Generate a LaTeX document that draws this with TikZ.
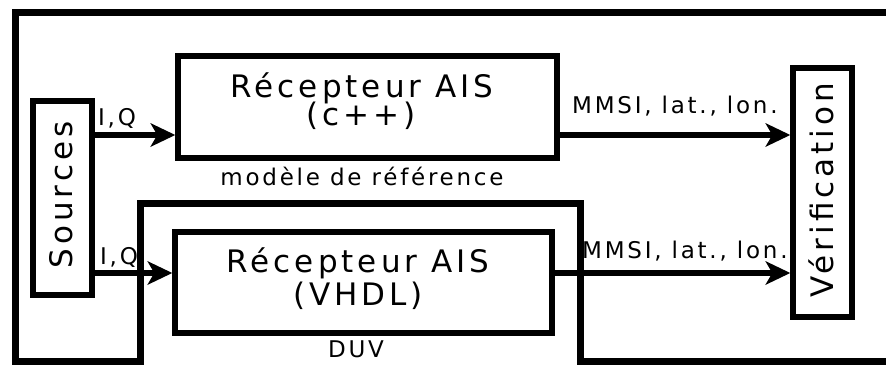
\documentclass[tikz,border=0pt]{standalone}
\usepackage{fontspec}
\setmainfont{DejaVu Sans}
\newfontfamily\bigfont{DejaVu Sans}[LetterSpace=13]
\newfontfamily\smallfont{DejaVu Sans}[LetterSpace=12]
\usetikzlibrary{arrows.meta,positioning}

\begin{document}
\begin{tikzpicture}[x=1pt,y=-1pt,
    blk/.style={draw,line width=5.5pt,inner sep=0pt},
    big/.style={font=\fontsize{31}{31}\selectfont\bigfont,inner sep=0pt},
    lbl/.style={font=\fontsize{23}{23}\selectfont\smallfont,inner sep=0pt},
    flow/.style={line width=6.5pt,
      -{Stealth[length=25pt,width=24pt,inset=7pt,line width=0pt]}}]
  \useasboundingbox (0,0) rectangle (886,367);
  % frame round the DUV
  \draw[line width=7pt] (886,12) -- (15,12) -- (15,361) -- (140,361)
    -- (140,203) -- (580,203) -- (580,361) -- (886,361);

  \node[blk,minimum width=59pt,minimum height=194pt] (src) at (62.5,198) {};
  \node[big,rotate=90,anchor=base] (srctxt) at (72,195) {Sources};
  \node[blk,minimum width=379pt,minimum height=102pt] (rcpp) at (367.5,107) {};
  \node[big,anchor=base] (rcppa) at (362,97) {Récepteur AIS};
  \node[big,anchor=base] (rcppb) at (361,125) {(c++)};
  \node[blk,minimum width=377pt,minimum height=101pt] (rvhdl) at (363.5,282.5) {};
  \node[big,anchor=base] (rvhdla) at (358,272) {Récepteur AIS};
  \node[big,anchor=base] (rvhdlb) at (358,305) {(VHDL)};
  \node[blk,minimum width=59pt,minimum height=249pt] (ver) at (822.5,192.5) {};
  \node[big,rotate=90,anchor=base] (vertxt) at (833,190) {Vérification};

  \node[lbl,anchor=base] (ref) at (362,185) {modèle de référence};
  \node[lbl,anchor=base] (duv) at (356,357) {DUV};

  % signal rows
  \coordinate (rowA) at (0,135);
  \coordinate (rowB) at (0,273);
  \draw[flow] (src.east |- rowA) -- (rcpp.west |- rowA);
  \draw[flow] (src.east |- rowB) -- (rvhdl.west |- rowB);
  \draw[flow] (rcpp.east |- rowA) -- (ver.west |- rowA);
  \draw[flow] (rvhdl.east |- rowB) -- (ver.west |- rowB);
  \node[lbl,anchor=base west] (iqa) at (98,125) {I,Q};
  \node[lbl,anchor=base west] (iqb) at (100,264) {I,Q};
  \node[lbl,anchor=base west] (outa) at (572,113) {MMSI, lat., lon.};
  \node[lbl,anchor=base west] (outb) at (582,258) {MMSI, lat., lon.};
\end{tikzpicture}
\end{document}
